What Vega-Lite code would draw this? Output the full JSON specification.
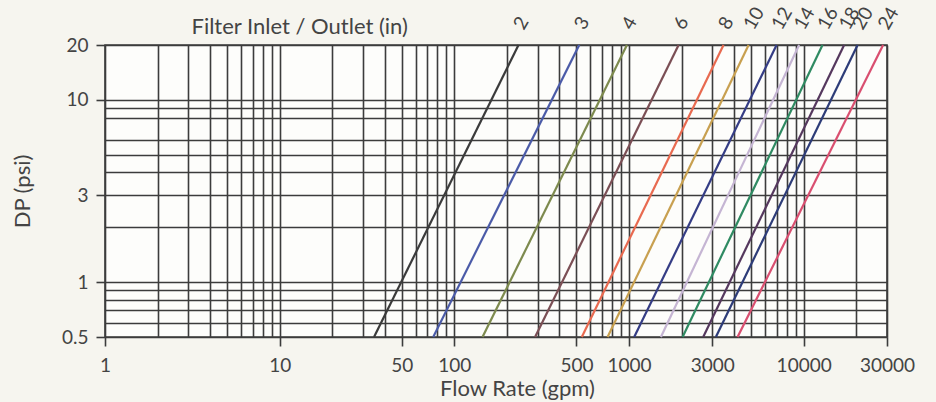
{
  "$schema": "https://vega.github.io/schema/vega-lite/v6.json",
  "width": 782,
  "height": 292,
  "autosize": {"type": "none"},
  "padding": {"left": 105, "top": 45, "right": 49, "bottom": 65},
  "background": "#f6f5ef",
  "config": {
    "font": "Lato",
    "view": {"fill": "#fdfdfb", "stroke": "#3c3c3c", "strokeWidth": 1.6}
  },
  "data": {
    "values": [
      {"size": "2", "Q": 34.7, "DP": 0.5}, {"size": "2", "Q": 233, "DP": 20},
      {"size": "3", "Q": 75.7, "DP": 0.5}, {"size": "3", "Q": 519, "DP": 20},
      {"size": "4", "Q": 145, "DP": 0.5}, {"size": "4", "Q": 973, "DP": 20},
      {"size": "6", "Q": 290, "DP": 0.5}, {"size": "6", "Q": 1923, "DP": 20},
      {"size": "8", "Q": 537, "DP": 0.5}, {"size": "8", "Q": 3477, "DP": 20},
      {"size": "10", "Q": 754, "DP": 0.5}, {"size": "10", "Q": 4840, "DP": 20},
      {"size": "12", "Q": 1071, "DP": 0.5}, {"size": "12", "Q": 6997, "DP": 20},
      {"size": "14", "Q": 1523, "DP": 0.5}, {"size": "14", "Q": 9420, "DP": 20},
      {"size": "16", "Q": 2027, "DP": 0.5}, {"size": "16", "Q": 12820, "DP": 20},
      {"size": "18", "Q": 2660, "DP": 0.5}, {"size": "18", "Q": 17050, "DP": 20},
      {"size": "20", "Q": 3143, "DP": 0.5}, {"size": "20", "Q": 20360, "DP": 20},
      {"size": "24", "Q": 4185, "DP": 0.5}, {"size": "24", "Q": 28500, "DP": 20}
    ]
  },
  "layer": [
    {
      "mark": {"type": "line", "strokeWidth": 2.2},
      "encoding": {
        "x": {
          "field": "Q", "type": "quantitative",
          "scale": {"type": "log", "domain": [1, 30000], "nice": false},
          "axis": {
            "orient": "bottom",
            "values": [1,2,3,4,5,6,7,8,9,10,20,30,40,50,60,70,80,90,100,200,300,400,500,600,700,800,900,1000,2000,3000,4000,5000,6000,7000,8000,9000,10000,20000,30000],
            "grid": true, "gridColor": "#3c3c3c", "gridWidth": 1.6, "gridOpacity": 1,
            "domain": false,
            "tickColor": "#3c3c3c", "tickWidth": 1.6, "tickSize": 9,
            "tickOpacity": {"condition": {"test": "indexof([1,10,50,100,500,1000,3000,10000,30000], datum.value) >= 0", "value": 1}, "value": 0},
            "labelExpr": "indexof([1,10,50,100,500,1000,3000,10000,30000], datum.value) >= 0 ? '' + datum.value : ''",
            "labelFont": "Lato", "labelFontSize": 19, "labelColor": "#444444",
            "labelPadding": 10, "labelFlush": false, "labelOverlap": false, "labelBound": false,
            "title": "Flow Rate (gpm)",
            "titleFont": "Lato", "titleFontSize": 22, "titleFontWeight": "normal", "titleColor": "#444444",
            "titleX": 412, "titleY": 58, "titleAlign": "center", "titleBaseline": "alphabetic"
          }
        },
        "y": {
          "field": "DP", "type": "quantitative",
          "scale": {"type": "log", "domain": [0.5, 20], "nice": false},
          "axis": {
            "orient": "left",
            "values": [0.5,0.6,0.7,0.8,0.9,1,2,3,4,5,6,8,9,10,20],
            "grid": true, "gridColor": "#3c3c3c", "gridWidth": 1.6, "gridOpacity": 1,
            "domain": false,
            "tickColor": "#3c3c3c", "tickWidth": 1.6, "tickSize": 9,
            "tickOpacity": {"condition": {"test": "indexof([0.5,1,3,10,20], datum.value) >= 0", "value": 1}, "value": 0},
            "labelExpr": "indexof([0.5,1,3,10,20], datum.value) >= 0 ? '' + datum.value : ''",
            "labelFont": "Lato", "labelFontSize": 19, "labelColor": "#444444",
            "labelPadding": 8, "labelOverlap": false, "labelBound": false, "labelFlush": false,
            "title": "DP (psi)",
            "titleFont": "Lato", "titleFontSize": 22, "titleFontWeight": "normal", "titleColor": "#444444",
            "titleX": -76, "titleY": 146, "titleAngle": -90, "titleAlign": "center", "titleBaseline": "alphabetic"
          }
        },
        "color": {
          "field": "size", "type": "nominal",
          "scale": {
            "domain": ["2","3","4","6","8","10","12","14","16","18","20","24"],
            "range": ["#3b3b3b","#4b5ba8","#7d8a4e","#7b4f55","#e86a50","#c8a050","#353d85","#c5b5d3","#2f8a62","#55385e","#2d3c78","#d94f70"]
          },
          "legend": null
        },
        "detail": {"field": "size"}
      }
    },
    {
      "transform": [{"filter": "datum.DP == 20"}],
      "mark": {"type": "text", "angle": -60, "align": "left", "baseline": "middle", "dx": 14.7, "dy": -8.5, "fontSize": 19, "font": "Lato", "color": "#444444"},
      "encoding": {
        "x": {
          "field": "Q", "type": "quantitative",
          "scale": {"type": "log", "domain": [1, 30000], "nice": false},
          "axis": {
            "orient": "top", "grid": false, "ticks": false, "labels": false, "domain": false,
            "title": "Filter Inlet / Outlet (in)",
            "titleFont": "Lato", "titleFontSize": 22, "titleFontWeight": "normal", "titleColor": "#444444",
            "titleX": 86, "titleY": -12, "titleAlign": "left", "titleAnchor": "start", "titleBaseline": "alphabetic"
          }
        },
        "y": {
          "field": "DP", "type": "quantitative",
          "scale": {"type": "log", "domain": [0.5, 20], "nice": false},
          "title": "DP (psi)"
        },
        "text": {"field": "size", "type": "nominal"}
      }
    }
  ],
  "resolve": {"axis": {"x": "independent"}}
}
